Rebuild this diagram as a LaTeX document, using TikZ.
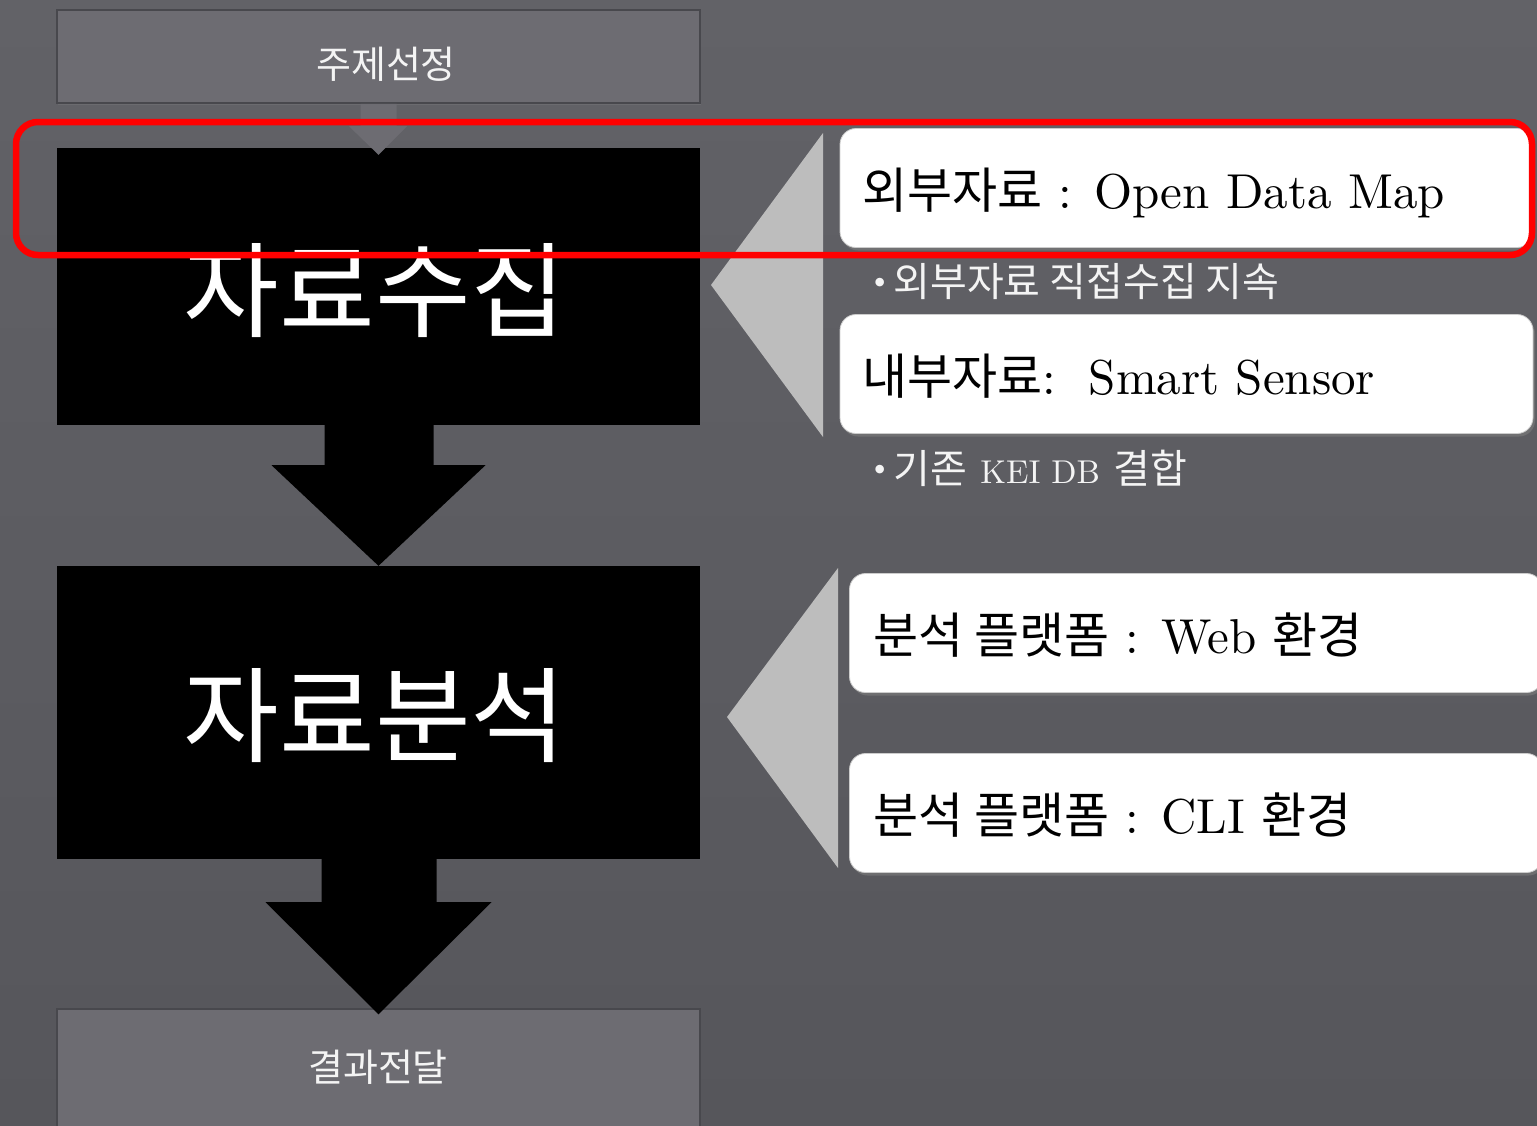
\documentclass[tikz,border=0pt]{standalone}
\usepackage{fontspec}
\newfontfamily\kr{Noto Sans CJK KR}
\newfontfamily\lat{lmroman10-regular}[Extension=.otf]
\usetikzlibrary{calc,shadows}
\definecolor{bgtop}{HTML}{626267}
\definecolor{bgbot}{HTML}{56565B}
\definecolor{graybox}{HTML}{6D6C72}
\definecolor{grayedge}{HTML}{48484D}
\definecolor{chev}{HTML}{BDBDBD}
\definecolor{txtw}{HTML}{F4F4F4}
\newcommand{\bul}{{\lat\fontsize{30}{30}\selectfont\raisebox{7pt}{\textbullet}}\hspace{2pt}}
\tikzset{
  graystep/.style={draw=grayedge, line width=1.5pt, fill=graybox, minimum width=643pt, inner sep=0pt,
    drop shadow={shadow xshift=1pt, shadow yshift=-2pt, opacity=0.35}},
  blackstep/.style={fill=black, minimum width=643pt, inner sep=0pt},
  whitebox/.style={draw=gray!40, line width=0.8pt, fill=white, rounded corners=16pt, minimum width=693pt, minimum height=119pt, inner sep=0pt,
    drop shadow={shadow xshift=2pt, shadow yshift=-3pt, opacity=0.55}},
  blockarrow/.style={fill=black},
  chevron/.style={fill=chev},
  boxtext/.style={anchor=base west, inner sep=0pt, text=black, font=\lat\fontsize{49}{58}\selectfont},
  bullettext/.style={anchor=base west, inner sep=0pt, text=txtw, font=\lat\fontsize{40}{46}\selectfont},
  smalltext/.style={anchor=base, inner sep=0pt, text=txtw, font=\kr\fontsize{38}{44}\selectfont},
  bigtext/.style={anchor=base, inner sep=0pt, text=white, font=\kr\fontsize{104}{116}\selectfont},
  focus/.style={draw=red, line width=6.5pt, rounded corners=22pt}
}
\begin{document}
\begin{tikzpicture}[x=1pt,y=-1pt]
\useasboundingbox (0,0) rectangle (1537,1125);
\shade[top color=bgtop, bottom color=bgbot] (0,0) rectangle (1537,1125);

% left flow
\node[graystep, minimum height=93pt] (topic) at (378.5,56.5) {};
\node[graystep, minimum height=122pt] (result) at (378.5,1070) {};
\node[blackstep, minimum height=277pt] (collect) at (378.5,286.5) {};
\node[blackstep, minimum height=293pt] (analyze) at (378.5,712.5) {};

% small arrow from topic
\fill[graybox] ($(topic.south)+(-18,0)$) -- ($(topic.south)+(18,0)$) -- ($(topic.south)+(18,22)$)
  -- ($(topic.south)+(29,22)$) -- ($(collect.north)+(0,7)$) -- ($(topic.south)+(-30,22)$)
  -- ($(topic.south)+(-18,22)$) -- cycle;

% block arrows
\fill[blockarrow] ($(collect.south)+(-54,0)$) -- ($(collect.south)+(55,0)$) -- ($(collect.south)+(55,40)$)
  -- ($(collect.south)+(107,40)$) -- (analyze.north) -- ($(collect.south)+(-107,40)$)
  -- ($(collect.south)+(-54,40)$) -- cycle;
\fill[blockarrow] ($(analyze.south)+(-57,0)$) -- ($(analyze.south)+(58,0)$) -- ($(analyze.south)+(58,43)$)
  -- ($(analyze.south)+(113,43)$) -- ($(result.north)+(0,6)$) -- ($(analyze.south)+(-113,43)$)
  -- ($(analyze.south)+(-57,43)$) -- cycle;

% texts of the flow
\node[smalltext] (topicT) at (386,78) {주제선정};
\node[smalltext] (resultT) at (378,1081) {결과전달};
\node[bigtext] (collectT) at (375,329) {자료수집};
\node[bigtext] (analyzeT) at (375,754) {자료분석};

% chevrons
\fill[chevron] (823,133) coordinate (c1a) -- (711,285) coordinate (c1t) -- (823,437) coordinate (c1b) -- cycle;
\fill[chevron] (838,568) coordinate (c2a) -- (727,717) coordinate (c2t) -- (838,868) coordinate (c2b) -- cycle;

% right boxes
\node[whitebox] (ext) at (1186.5,188) {};
\node[whitebox] (int) at (1186.5,374) {};
\node[whitebox] (web) at (1196,633) {};
\node[whitebox] (cli) at (1196,813) {};

\node[boxtext] (extT) at (862,208) {{\kr 외부자료} : Open Data Map};
\node[boxtext] (intT) at (862,394) {{\kr 내부자료}:\ \ Smart Sensor};
\node[boxtext] (webT) at (873,653) {{\kr 분석 플랫폼} : Web {\kr 환경}};
\node[boxtext] (cliT) at (873,833) {{\kr 분석 플랫폼} : CLI {\kr 환경}};

\node[bullettext] (b1) at (868,296) {\bul{\kr 외부자료 직접수집 지속}};
\node[bullettext] (b2) at (868,483) {\bul{\kr 기존} {\fontsize{33}{40}\selectfont KEI DB} {\kr 결합}};

% highlight frame
\draw[focus] (16,122) rectangle (1532,255);
\end{tikzpicture}
\end{document}
